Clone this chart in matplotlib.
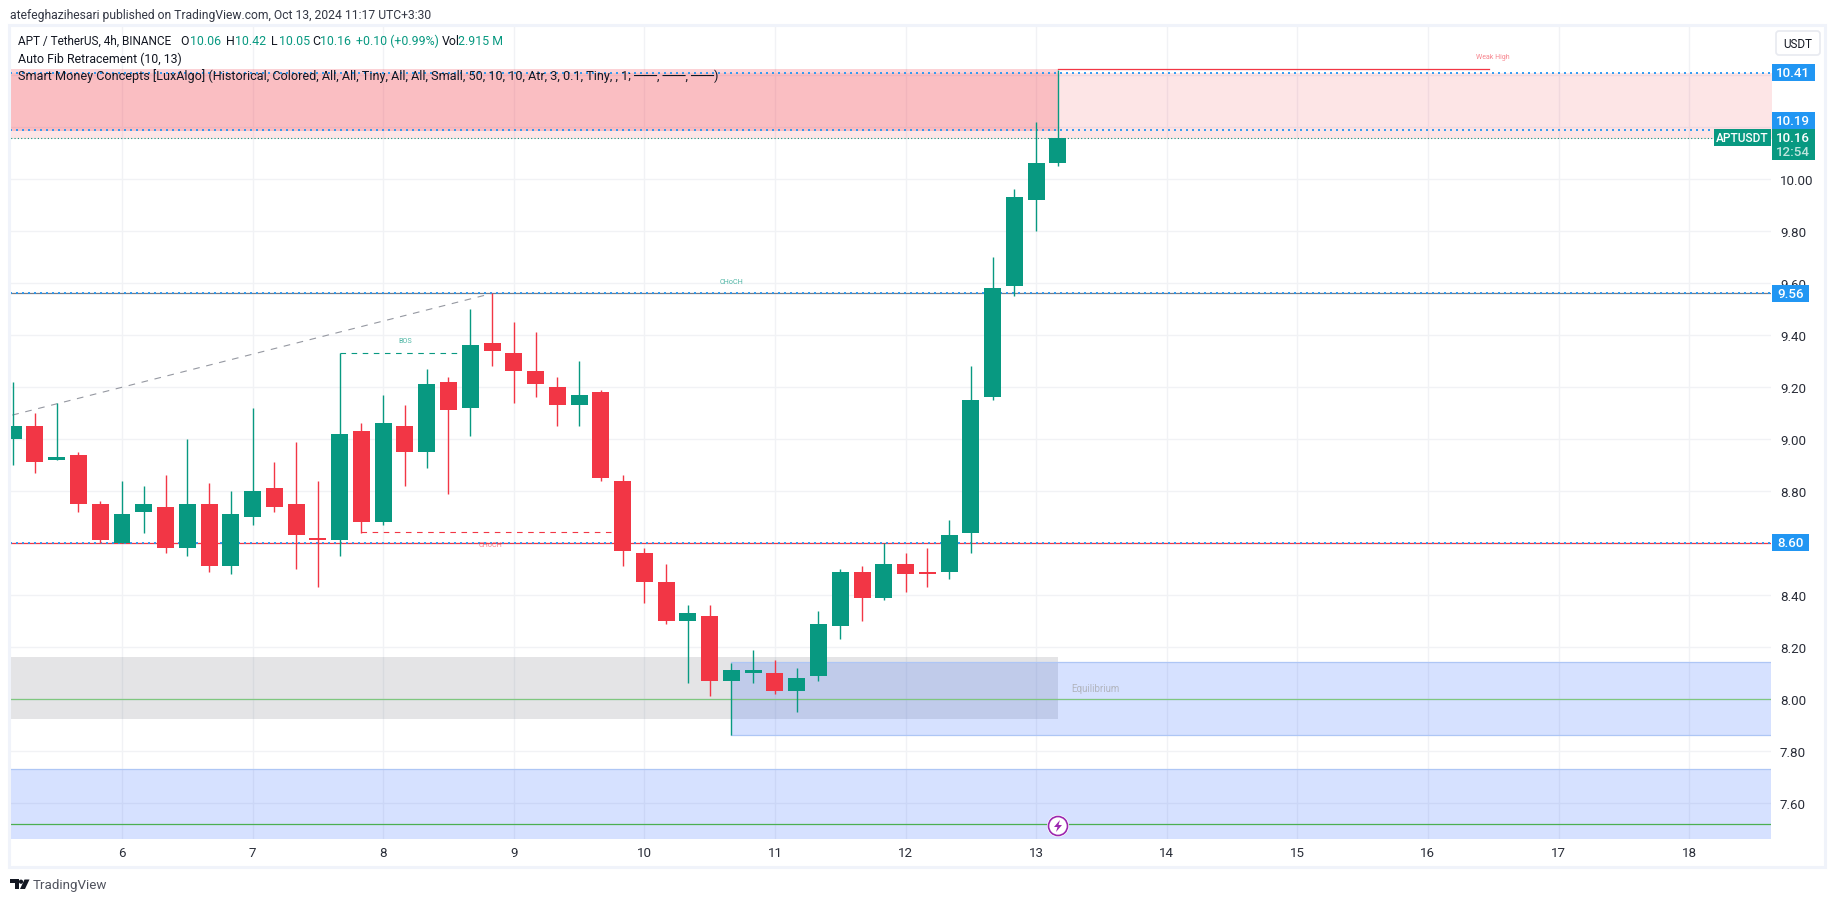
"""APT / USDT 4h candles with Smart Money Concepts zones, TradingView look."""

import numpy as np
import matplotlib
matplotlib.use('Agg')
import matplotlib.pyplot as plt
from matplotlib.patches import Circle, FancyBboxPatch, Polygon, Rectangle

plt.rcParams['font.family'] = ['Roboto', 'DejaVu Sans']

# candles, 4h each, the sixth one opens day 6
open_ = [9.00, 9.05, 8.92, 8.94, 8.75, 8.60, 8.72, 8.74, 8.58, 8.75, 8.51, 8.70, 8.81, 8.75, 8.62,
         8.61, 9.03, 8.68, 9.05, 8.95, 9.22, 9.12, 9.37, 9.33, 9.26, 9.20, 9.13, 9.18, 8.84, 8.56,
         8.45, 8.30, 8.32, 8.07, 8.10, 8.10, 8.03, 8.09, 8.28, 8.49, 8.39, 8.52, 8.49, 8.49, 8.64,
         9.16, 9.59, 9.92, 10.06]
high = [9.22, 9.10, 9.14, 8.95, 8.76, 8.84, 8.82, 8.86, 9.00, 8.83, 8.80, 9.12, 8.91, 8.99, 8.84,
        9.33, 9.06, 9.17, 9.13, 9.27, 9.24, 9.50, 9.56, 9.45, 9.41, 9.24, 9.30, 9.19, 8.86, 8.58,
        8.52, 8.36, 8.36, 8.14, 8.19, 8.15, 8.12, 8.34, 8.50, 8.51, 8.60, 8.56, 8.58, 8.69, 9.28,
        9.70, 9.96, 10.22, 10.42]
low = [8.90, 8.87, 8.92, 8.72, 8.60, 8.60, 8.64, 8.56, 8.55, 8.49, 8.48, 8.67, 8.72, 8.50, 8.43,
       8.55, 8.64, 8.67, 8.82, 8.89, 8.79, 9.01, 9.28, 9.14, 9.16, 9.05, 9.05, 8.84, 8.51, 8.37,
       8.29, 8.06, 8.01, 7.86, 8.06, 8.02, 7.95, 8.07, 8.23, 8.30, 8.38, 8.41, 8.43, 8.46, 8.56,
       9.15, 9.55, 9.80, 10.05]
close = [9.05, 8.91, 8.93, 8.75, 8.61, 8.71, 8.75, 8.58, 8.75, 8.51, 8.71, 8.80, 8.74, 8.63, 8.61,
         9.02, 8.68, 9.06, 8.95, 9.21, 9.11, 9.36, 9.34, 9.26, 9.21, 9.13, 9.17, 8.85, 8.57, 8.45,
         8.30, 8.33, 8.07, 8.11, 8.11, 8.03, 8.08, 8.29, 8.49, 8.39, 8.52, 8.48, 8.48, 8.63, 9.15,
         9.58, 9.93, 10.06, 10.16]

day_ticks = [6, 7, 8, 9, 10, 11, 12, 13, 14, 15, 16, 17, 18]
price_ticks = [7.6, 7.8, 8.0, 8.2, 8.4, 8.6, 8.8, 9.0, 9.2, 9.4, 9.6, 9.8, 10.0, 10.2, 10.4]
# these three sit behind a price tag in the original
tagged_ticks = [8.6, 10.2, 10.4]

# horizontal levels
blue_levels = [10.41, 10.19, 9.56, 8.60]
last_price = 10.16
equilibrium_levels = [8.00, 7.52]

GREEN = '#089981'
RED = '#f23645'
BLUE = '#2196f3'
TEXT = '#131722'
GRID = '#f1f2f5'

PX_W, PX_H = 1835, 903
LEFT, RIGHT, TOP, BOTTOM = 10, 1771, 27, 840

fig = plt.figure(figsize=(PX_W / 100, PX_H / 100), dpi=100, facecolor='white')
ax = fig.add_axes([LEFT / PX_W, 1 - BOTTOM / PX_H, (RIGHT - LEFT) / PX_W, (BOTTOM - TOP) / PX_H])
ax.set_xlim(5.1424, 18.627)
ax.set_ylim(7.461, 10.589)
for s in ax.spines.values():
    s.set_visible(False)

days = 6 + (np.arange(len(close)) - 5) / 6
o = np.array(open_)
c = np.array(close)
colors = [GREEN if b >= a else RED for a, b in zip(open_, close)]
last_x = days[-1]

ax.set_xticks(day_ticks)
ax.set_yticks(price_ticks)
ax.set_yticklabels(['' if p in tagged_ticks else f'{p:.2f}' for p in price_ticks])
ax.yaxis.tick_right()
ax.tick_params(axis='both', length=0, labelsize=9.6, labelcolor='#2a2e39')
ax.tick_params(axis='y', pad=6.5)
ax.tick_params(axis='x', pad=5)
ax.grid(True, color=GRID, lw=1.0)
ax.set_axisbelow(True)

# supply zones
ax.fill_between([5.1, 18.7], 10.154, 10.41, color=RED, alpha=0.13, lw=0, zorder=1)
ax.fill_between([5.1, last_x], 10.186, 10.423, color=RED, alpha=0.22, lw=0, zorder=1)

# equilibrium / demand zones
ax.fill_between([5.1, last_x], 7.924, 8.163, color='#787b86', alpha=0.2, lw=0, zorder=1)
ax.add_patch(Rectangle((days[33], 7.863), 18.7 - days[33], 0.28, fc='#2962ff', alpha=0.19, lw=0, zorder=1.1))
ax.add_patch(Rectangle((5.1, 7.4), 13.6, 0.332, fc='#2962ff', alpha=0.19, lw=0, zorder=1.1))
for y, x0 in [(8.143, days[33]), (7.863, days[33]), (7.732, 5.1)]:
    ax.plot([x0, 18.7], [y, y], color='#aec6f5', lw=0.9, zorder=1.2)

ax.plot([5.1, 18.7], [equilibrium_levels[0]] * 2, color='#7fc77f', lw=0.9, zorder=1.5)
ax.plot([5.1, 18.7], [equilibrium_levels[1]] * 2, color='#4caf50', lw=0.9, zorder=1.5)

# solid structure lines under the dotted levels
ax.plot([5.1, 18.7], [9.56, 9.56], color='#787b86', lw=0.9, zorder=2)
ax.plot([5.1, 18.7], [8.60, 8.60], color=RED, lw=0.9, zorder=2)
ax.plot([last_x, days[-1] + 3.3], [10.423, 10.423], color=RED, lw=0.9, zorder=2)

# trend line and BOS / CHoCH dashes
ax.plot([5.16, days[22]], [9.092, 9.56], color='#9598a1', lw=0.8, ls=(0, (6, 6)), zorder=2)
ax.plot([days[15], days[21]], [9.331, 9.331], color=GREEN, lw=0.8, ls=(0, (5, 5)), zorder=2)
ax.plot([days[16], days[28]], [8.642, 8.642], color=RED, lw=0.8, ls=(0, (5, 5)), zorder=2)

for lvl in blue_levels:
    ax.plot([5.1, 18.7], [lvl, lvl], color=BLUE, lw=1.44, ls=(0, (1, 2)), dash_capstyle='butt',
            alpha=0.9, zorder=2.5)
ax.plot([5.1, 18.19], [last_price, last_price], color=GREEN, lw=0.8, ls=(0, (1, 2)),
        dash_capstyle='butt', zorder=2.5)

# candles
ax.vlines(days, low, high, colors=colors, lw=1.0, zorder=3)
ax.bar(days, np.abs(c - o), width=0.13, bottom=np.minimum(o, c), color=colors, lw=0, zorder=3.1)

# small zone labels
ax.text(8.167, 9.378, 'BOS', color=GREEN, alpha=0.7, fontsize=5.2, ha='center', va='center', zorder=4)
ax.text(10.67, 9.605, 'CHoCH', color=GREEN, alpha=0.7, fontsize=5.2, ha='center', va='center', zorder=4)
ax.text(8.825, 8.596, 'CHoCH', color=RED, alpha=0.65, fontsize=5.2, ha='center', va='center', zorder=4)
ax.text(16.50, 10.47, 'Weak High', color=RED, alpha=0.6, fontsize=5, ha='center', va='center', zorder=4)
ax.text(13.45, 8.043, 'Equilibrium', color='#b2b5be', fontsize=7, ha='center', va='center', zorder=4)

# overlay in pixel coordinates for the TradingView chrome
ov = fig.add_axes([0, 0, 1, 1], zorder=10)
ov.set_xlim(0, PX_W)
ov.set_ylim(PX_H, 0)
ov.axis('off')


def py(price):
    return PX_H - ax.transData.transform((6, price))[1]


ov.add_patch(Rectangle((9, 26), 1816, 842, fc='none', ec='#f0f3fa', lw=2.2))

ov.text(10, 15, 'atefeghazihesari published on TradingView.com, Oct 13, 2024 11:17 UTC+3:30',
        fontsize=8.7, color='#333744', va='center')

# legend rows
row = 41.5
ov.text(18.4, row, 'APT / TetherUS, 4h, BINANCE', fontsize=8.5, color=TEXT, va='center')
for x, label, col in [(180, 'O', TEXT), (190, '10.06', GREEN), (226, 'H', TEXT), (235, '10.42', GREEN),
                      (271, 'L', TEXT), (279, '10.05', GREEN), (312, 'C', TEXT), (320, '10.16', GREEN),
                      (356, '+0.10 (+0.99%)', GREEN), (442, 'Vol', TEXT), (458, '2.915 M', GREEN)]:
    ov.text(x, row, label, fontsize=8.9, color=col, va='center')
ov.text(18.4, 59, 'Auto Fib Retracement (10, 13)', fontsize=8.9, color=TEXT, va='center')
ov.text(18.4, 76.5, 'Smart Money Concepts [LuxAlgo] (Historical, Colored, All, All, Tiny, All, All, Small, '
        '50, 10, 10, Atr, 3, 0.1, Tiny, , 1; ───, ───, ───)', fontsize=9.05, color=TEXT, va='center')

# currency button
ov.add_patch(FancyBboxPatch((1776, 32), 44, 24, boxstyle='round,pad=0,rounding_size=3',
                            fc='white', ec='#e8eaf0', lw=1.2))
ov.text(1798, 44.5, 'USDT', fontsize=8.4, color=TEXT, ha='center', va='center')


def price_tag(price, x1, center=None):
    # a tag sits on its level unless the last price pushes it up
    y = py(price) if center is None else center
    ov.add_patch(Rectangle((1772, y - 8.5), x1 - 1772, 17, fc=BLUE, lw=0))
    ov.text(1793 if x1 > 1810 else 1791, y, f'{price:.2f}', color='white', fontsize=9.6,
            fontweight='medium', ha='center', va='center')


price_tag(blue_levels[0], 1815)
price_tag(blue_levels[1], 1815, center=121.5)
price_tag(blue_levels[2], 1809)
price_tag(blue_levels[3], 1809)

# last price tag with countdown
ov.add_patch(Rectangle((1772, 130), 43, 31, fc=GREEN, lw=0))
ov.text(1793, 138.5, f'{last_price:.2f}', color='white', fontsize=9.6, fontweight='medium', ha='center', va='center')
ov.text(1793, 153, '12:54', color='#bfe6de', fontsize=9.6, fontweight='medium', ha='center', va='center')
ov.add_patch(Rectangle((1714, 130), 57, 17, fc=GREEN, lw=0))
ov.text(1742.5, 138.5, 'APTUSDT', color='white', fontsize=8.6, fontweight='medium', ha='center', va='center')

# bolt marker
ov.add_patch(Circle((1058, 827), 11, fc='white', lw=0))
ov.add_patch(Circle((1058, 827), 9.5, fc='white', ec='#9c27b0', lw=1.2))
ov.add_patch(Polygon([(1060, 821), (1054, 828), (1057.5, 828), (1056, 833), (1062, 826), (1058.5, 826)],
                     closed=True, fc='#9c27b0', lw=0))

# TradingView wordmark
ov.add_patch(Polygon([(10, 880.5), (18.5, 880.5), (18.5, 890), (14.5, 890), (14.5, 884.5), (10, 884.5)],
                     closed=True, fc='#131722', lw=0))
ov.add_patch(Circle((21, 882.7), 2.1, fc='#131722', lw=0))
ov.add_patch(Polygon([(24.5, 880.5), (29.5, 880.5), (25, 890), (20, 890)], closed=True, fc='#131722', lw=0))
ov.text(33, 885.5, 'TradingView', fontsize=9.6, color='#50535e', va='center')

plt.savefig('out.png', dpi=100)
plt.close()
